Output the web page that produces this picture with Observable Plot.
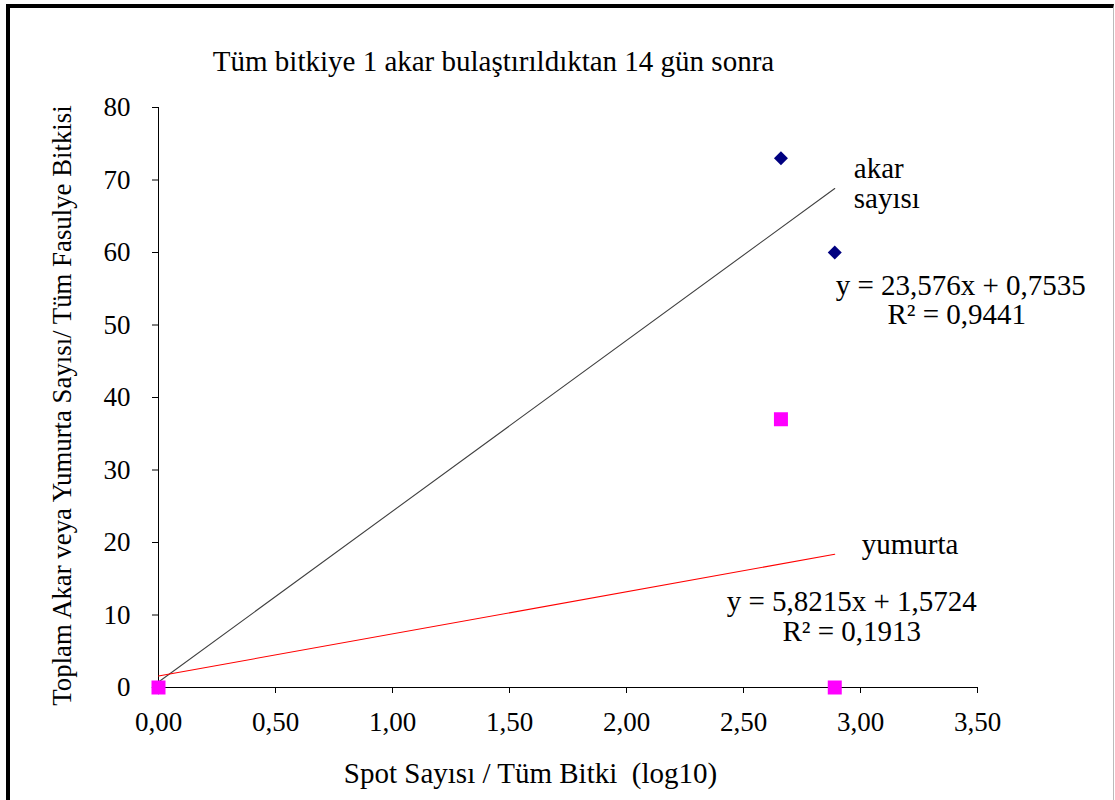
<!DOCTYPE html>
<html><head><meta charset="utf-8">
<script src="https://cdn.jsdelivr.net/npm/d3@7"></script>
<script src="https://cdn.jsdelivr.net/npm/@observablehq/plot@0.6"></script>
<style>
body{margin:0;background:#fff;}
#wrap{position:relative;width:1115px;height:800px;overflow:hidden;background:#fff;}
#chart{position:absolute;left:0;top:0;}
#frame{position:absolute;left:6px;top:4px;width:1103px;height:820px;border-left:4px solid #000;border-top:4px solid #000;border-right:1px solid #bbb;pointer-events:none;}
</style></head><body>
<div id="wrap"><div id="chart"></div><div id="frame"></div></div>
<script>
// ---- data ----
const title = "Tüm bitkiye 1 akar bulaştırıldıktan 14 gün sonra";
const xLabel = "Spot Sayısı / Tüm Bitki  (log10)";
const yLabel = "Toplam Akar veya Yumurta Sayısı/ Tüm Fasulye Bitkisi";
const spotLog = [0, 2.66, 2.89];          // x: Spot Sayısı / Tüm Bitki (log10)
const akarSayisi = [0, 73, 60];           // blue diamonds
const yumurtaSayisi = [0, 37, 0];         // magenta squares
const akarFit = {slope: 23.576, intercept: 0.7535};
const yumurtaFit = {slope: 5.8215, intercept: 1.5724};
const akarName = ["akar", "sayısı"];
const yumurtaName = ["yumurta"];
const akarEq = ["y = 23,576x + 0,7535", "R² = 0,9441"];
const yumurtaEq = ["y = 5,8215x + 1,5724", "R² = 0,1913"];
const xTicks = [0, 0.5, 1, 1.5, 2, 2.5, 3, 3.5];
const yTicks = [0, 10, 20, 30, 40, 50, 60, 70, 80];

// ---- derived tables ----
const akarPts = spotLog.map((x, i) => ({x, y: akarSayisi[i]}));
const yumPts = spotLog.map((x, i) => ({x, y: yumurtaSayisi[i]}));
const xMax = d3.max(spotLog);
const akarEnd = {x: xMax, y: akarFit.slope * xMax + akarFit.intercept};
const yumEnd = {x: xMax, y: yumurtaFit.slope * xMax + yumurtaFit.intercept};
const fmtX = d => d.toFixed(2).replace(".", ",");

const FONT = "Liberation Serif";
const FS = 29;

const chart = Plot.plot({
  width: 1115,
  height: 800,
  marginLeft: 158,
  marginRight: 138,
  marginTop: 107,
  marginBottom: 113,
  style: {fontFamily: FONT, fontSize: "27px", background: "none", color: "#000"},
  x: {domain: [0, 3.5], ticks: xTicks, tickFormat: fmtX, tickSize: 6, tickPadding: 18, line: true, label: null},
  y: {domain: [0, 80], ticks: yTicks, tickSize: 6, tickPadding: 22, line: true, label: null},
  marks: [
    Plot.linearRegressionY(akarPts, {x: "x", y: "y", ci: 0, stroke: "#404040", strokeWidth: 1.1}),
    Plot.linearRegressionY(yumPts, {x: "x", y: "y", ci: 0, stroke: "#ff0000", strokeWidth: 1.1}),
    Plot.dot(akarPts, {x: "x", y: "y", symbol: "diamond2", r: 6.3, fill: "#000080", stroke: "none"}),
    Plot.dot(yumPts, {x: "x", y: "y", symbol: "square", r: 7.9, fill: "#ff00ff", stroke: "none"}),
    // series labels anchored at the regression line ends
    Plot.text([akarEnd], {x: "x", y: "y", text: () => akarName[0], textAnchor: "start", lineAnchor: "bottom", dx: 19, dy: -10, fontSize: FS}),
    Plot.text([akarEnd], {x: "x", y: "y", text: () => akarName[1], textAnchor: "start", lineAnchor: "bottom", dx: 19, dy: 20, fontSize: FS}),
    Plot.text([akarEnd], {x: "x", y: "y", text: () => akarEq[0], textAnchor: "middle", lineAnchor: "bottom", dx: 126, dy: 107, fontSize: FS}),
    Plot.text([akarEnd], {x: "x", y: "y", text: () => akarEq[1], textAnchor: "middle", lineAnchor: "bottom", dx: 122, dy: 136, fontSize: FS}),
    Plot.text([yumEnd], {x: "x", y: "y", text: () => yumurtaName[0], textAnchor: "start", lineAnchor: "bottom", dx: 27, dy: 0, fontSize: FS}),
    Plot.text([yumEnd], {x: "x", y: "y", text: () => yumurtaEq[0], textAnchor: "middle", lineAnchor: "bottom", dx: 17, dy: 57, fontSize: FS}),
    Plot.text([yumEnd], {x: "x", y: "y", text: () => yumurtaEq[1], textAnchor: "middle", lineAnchor: "bottom", dx: 17, dy: 87, fontSize: FS}),
    // title and axis labels
    Plot.text([title], {frameAnchor: "top-left", textAnchor: "middle", lineAnchor: "bottom", dx: 335, dy: -37, fontSize: FS}),
    Plot.text([xLabel], {frameAnchor: "bottom-left", textAnchor: "middle", lineAnchor: "bottom", dx: 372, dy: 95, fontSize: FS}),
    Plot.text([yLabel], {frameAnchor: "left", textAnchor: "middle", lineAnchor: "bottom", rotate: -90, dx: -88, dy: 8, fontSize: 26.8})
  ]
});
document.getElementById("chart").appendChild(chart);
</script>
</body></html>
